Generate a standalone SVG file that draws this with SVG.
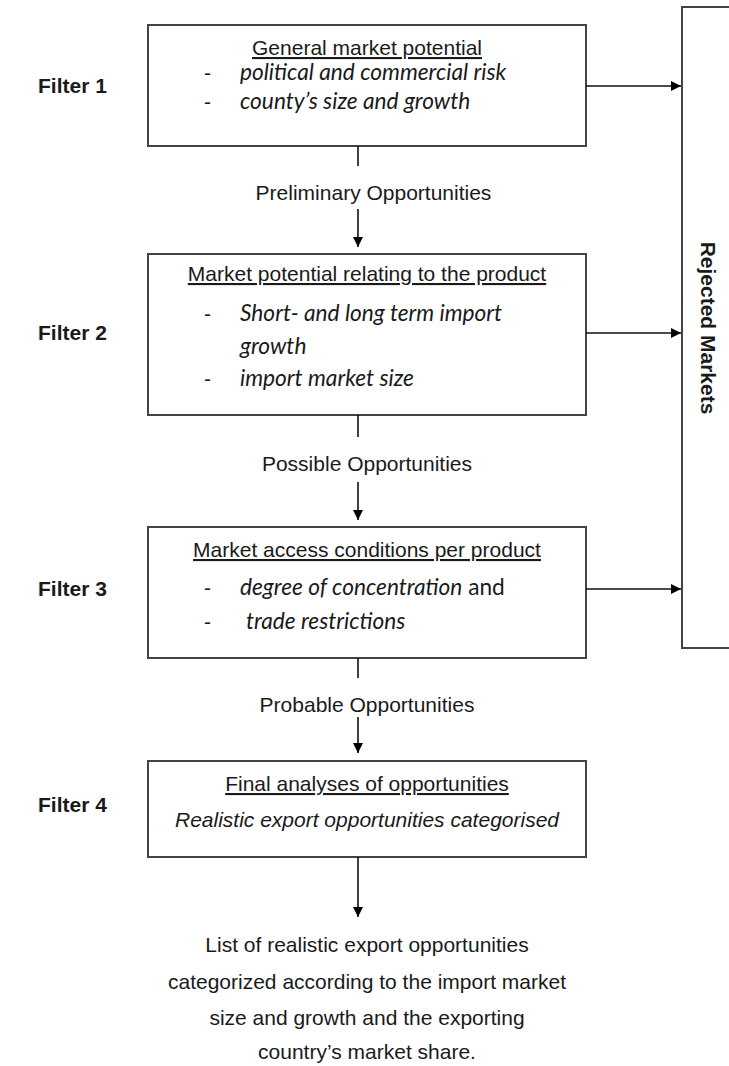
<svg xmlns="http://www.w3.org/2000/svg" width="729" height="1066" viewBox="0 0 729 1066">
<defs>
<marker id="ah" markerWidth="12" markerHeight="12" refX="10" refY="5" orient="auto" markerUnits="userSpaceOnUse">
<path d="M0,0 L10,5 L0,10 Z" fill="#000"/>
</marker>
<style>
.box{fill:#fff;stroke:#444;stroke-width:2}
.conn{stroke:#111;stroke-width:1.6;fill:none}
.t{font-family:"Liberation Sans",Arial,sans-serif;font-size:21px;fill:#1a1a1a}
.c{text-anchor:middle}
.u{text-decoration:underline}
.b{font-weight:bold}
.i{font-family:Lato,"Open Sans",sans-serif;font-style:italic;font-size:22.7px;fill:#1a1a1a}
.ia{font-style:italic}
</style>
</defs>
<rect width="729" height="1066" fill="#fff"/>

<g id="filter-labels">
<text class="t b" x="38" y="93">Filter 1</text>
<text class="t b" x="38" y="340">Filter 2</text>
<text class="t b" x="38" y="596">Filter 3</text>
<text class="t b" x="38" y="812">Filter 4</text>
</g>

<g id="rejected">
<rect class="box" x="682" y="7" width="100" height="641"/>
<text class="t b c" transform="translate(708,328) rotate(90)" y="7.5">Rejected Markets</text>
</g>

<g id="filter1">
<rect class="box" x="148" y="25" width="438" height="121"/>
<text class="t c u" x="367" y="55">General market potential</text>
<text class="t" x="204" y="80">-</text>
<text class="i" x="240" y="80">political and commercial risk</text>
<text class="t" x="204" y="109">-</text>
<text class="i" x="240" y="109">county’s size and growth</text>
</g>

<g id="filter2">
<rect class="box" x="148" y="254" width="438" height="161"/>
<text class="t c u" x="367" y="281">Market potential relating to the product</text>
<text class="t" x="204" y="321">-</text>
<text class="i" x="240" y="321">Short- and long term import</text>
<text class="i" x="240" y="354">growth</text>
<text class="t" x="204" y="386">-</text>
<text class="i" x="240" y="386">import market size</text>
</g>

<g id="filter3">
<rect class="box" x="148" y="527" width="438" height="131"/>
<text class="t c u" x="367" y="557">Market access conditions per product</text>
<text class="t" x="204" y="595">-</text>
<text class="i" x="240" y="595">degree of concentration<tspan font-style="normal"> and</tspan></text>
<text class="t" x="204" y="629">-</text>
<text class="i" x="246" y="629">trade restrictions</text>
</g>

<g id="filter4">
<rect class="box" x="148" y="761" width="438" height="96"/>
<text class="t c u" x="367" y="791">Final analyses of opportunities</text>
<text class="t c ia" x="367" y="827">Realistic export opportunities categorised</text>
</g>

<g id="labels">
<text class="t c" x="373.5" y="200" font-size="20">Preliminary Opportunities</text>
<text class="t c" x="367" y="471">Possible Opportunities</text>
<text class="t c" x="367" y="712">Probable Opportunities</text>
</g>

<g id="result">
<text class="t c" x="367" y="952">List of realistic export opportunities</text>
<text class="t c" x="367" y="989">categorized according to the import market</text>
<text class="t c" x="367" y="1025">size and growth and the exporting</text>
<text class="t c" x="367" y="1059">country’s market share.</text>
</g>

<g id="connectors">
<line class="conn" x1="358" y1="146" x2="358" y2="166"/>
<line class="conn" x1="358" y1="209" x2="358" y2="247" marker-end="url(#ah)"/>
<line class="conn" x1="358" y1="415" x2="358" y2="437"/>
<line class="conn" x1="358" y1="482" x2="358" y2="520" marker-end="url(#ah)"/>
<line class="conn" x1="358" y1="658" x2="358" y2="678"/>
<line class="conn" x1="358" y1="717" x2="358" y2="753" marker-end="url(#ah)"/>
<line class="conn" x1="358" y1="857" x2="358" y2="917" marker-end="url(#ah)"/>
<line class="conn" x1="586" y1="86" x2="681" y2="86" marker-end="url(#ah)"/>
<line class="conn" x1="586" y1="333" x2="681" y2="333" marker-end="url(#ah)"/>
<line class="conn" x1="586" y1="589" x2="681" y2="589" marker-end="url(#ah)"/>
</g>
</svg>
